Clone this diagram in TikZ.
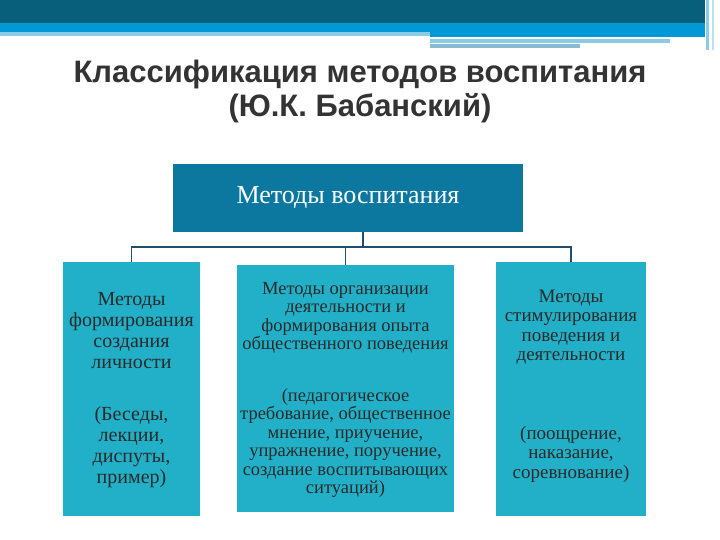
\documentclass[tikz,border=0pt]{standalone}
\usepackage{fontspec}
\setmainfont{Liberation Serif}
\newfontfamily\titlefont{Liberation Sans}
\definecolor{dk}{HTML}{075F7C}
\definecolor{br}{HTML}{0099D6}
\definecolor{lt}{HTML}{8CCBE6}
\definecolor{topbox}{HTML}{0C78A0}
\definecolor{sub}{HTML}{22B0C8}
\definecolor{ln}{HTML}{1F4E6E}
\definecolor{txt}{HTML}{2A2A2A}
\tikzset{subbox/.style={fill=sub,draw=none},
 btxt/.style={text=txt,font=\fontsize{19}{20}\selectfont,align=center,inner sep=0pt},
 conn/.style={draw=ln,line width=1.5pt}}
\begin{document}
\begin{tikzpicture}[x=1pt,y=-1pt]
\useasboundingbox (0,0) rectangle (720,540);
\fill[white] (0,0) rectangle (720,540);
% header bands
\fill[dk] (0,0) rectangle (705,23);
\fill[br] (0,23) rectangle (705,32);
\fill[lt] (0,32) rectangle (430,36);
\fill[br] (430,32) rectangle (705,37);
\fill[lt] (430,39) rectangle (670,43);
\fill[lt!80!gray] (430,44) rectangle (580,48);
\fill[lt] (706,0) rectangle (709,50);
\fill[lt!60] (712,0) rectangle (714,50);
% title
\node[font=\titlefont\bfseries\fontsize{31}{34}\selectfont,text=black!80,align=center] (title) at (360,91) {Классификация методов воспитания\\(Ю.К. Бабанский)};
% top box
\node[fill=topbox,minimum width=350pt,minimum height=68pt,text=white,font=\fontsize{26}{28}\selectfont] (top) at (348,198) {Методы воспитания};
% sub boxes
\node[subbox,minimum width=137pt,minimum height=254pt] (b1) at (131.5,389) {};
\node[subbox,minimum width=217pt,minimum height=247pt] (b2) at (345.5,388.5) {};
\node[subbox,minimum width=150pt,minimum height=254pt] (b3) at (571,389) {};
% connectors
\coordinate (j) at (363,247);
\draw[conn] (top.south -| j) -- (j);
\draw[conn] (b1.north) -- (b1.north |- j) -- (b3.north |- j) -- (b3.north);
\draw[conn] (b2.north |- j) -- (b2.north);
% texts
\node[btxt,font=\fontsize{20}{21}\selectfont] (t1a) at (131.5,331) {Методы\\формирования\\создания\\личности};
\node[btxt,font=\fontsize{20}{21}\selectfont] (t1b) at (131.5,447) {(Беседы,\\лекции,\\диспуты,\\пример)};
\node[btxt,font=\fontsize{18.5}{18.5}\selectfont] (t2a) at (345.5,318) {Методы организации\\деятельности и\\формирования опыта\\общественного поведения};
\node[btxt,font=\fontsize{18.5}{18.5}\selectfont] (t2b) at (345.5,443) {(педагогическое\\требование, общественное\\мнение, приучение,\\упражнение, поручение,\\создание воспитывающих\\ситуаций)};
\node[btxt,font=\fontsize{19}{19.5}\selectfont] (t3a) at (571,327) {Методы\\стимулирования\\поведения и\\деятельности};
\node[btxt,font=\fontsize{19}{19.5}\selectfont] (t3b) at (571,454) {(поощрение,\\наказание,\\соревнование)};
\end{tikzpicture}
\end{document}
